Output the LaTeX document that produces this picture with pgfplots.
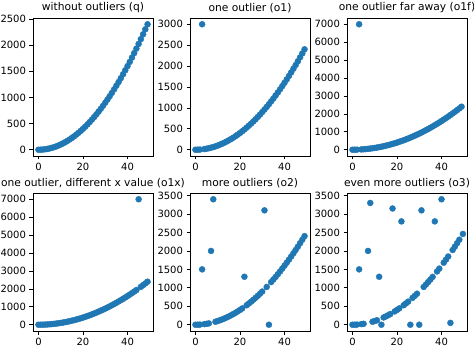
\documentclass[border=0pt]{standalone}
\usepackage{fontspec}
\setmainfont{DejaVu Sans}
\usepackage{pgfplots}
\usepackage{pgfplotstable}
\pgfplotsset{compat=1.18}
\definecolor{mplblue}{HTML}{1F77B4}
\pgfplotstableread{
x q a b c
0 0 0 0 0
1 1 1 1 1
2 4 4 4 4
3 9 nan 9 nan
4 16 16 16 16
5 25 25 25 25
6 36 36 36 36
7 49 49 49 nan
8 64 64 64 nan
9 81 81 81 81
10 100 100 100 100
11 121 121 121 121
12 144 144 144 144
13 169 169 169 169
14 196 196 196 196
15 225 225 225 225
16 256 256 256 256
17 289 289 289 289
18 324 324 324 324
19 361 361 361 361
20 400 400 400 400
21 441 441 441 441
22 484 484 484 nan
23 529 529 529 529
24 576 576 576 576
25 625 625 625 625
26 676 676 676 676
27 729 729 729 729
28 784 784 784 784
29 841 841 841 841
30 900 900 900 900
31 961 961 961 nan
32 1024 1024 1024 1024
33 1089 1089 1089 nan
34 1156 1156 1156 1156
35 1225 1225 1225 1225
36 1296 1296 1296 1296
37 1369 1369 1369 1369
38 1444 1444 1444 1444
39 1521 1521 1521 1521
40 1600 1600 1600 1600
41 1681 1681 1681 1681
42 1764 1764 1764 1764
43 1849 1849 1849 1849
44 1936 1936 1936 1936
45 2025 2025 nan 2025
46 2116 2116 2116 2116
47 2209 2209 2209 2209
48 2304 2304 2304 2304
49 2401 2401 2401 2401
}\base
\pgfplotstableread{
x y
0 0
1 1
2 4
4 16
5 25
9 81
10 100
11 121
14 196
15 225
16 256
17 289
19 361
20 400
21 441
23 529
24 576
25 625
27 729
28 784
29 841
32 1024
33 1089
34 1156
35 1225
36 1296
38 1444
39 1521
41 1681
42 1764
43 1849
45 2025
46 2116
47 2209
48 2304
49.6 2460
3 1500
7 2000
8 3300
12 1300
13 0
18 3150
22 2800
26 0
30 0
31 3100
37 2800
40 3400
44 50
}\othree
\pgfplotsset{
  every axis/.append style={
    scale only axis, width=120pt, height=138pt,
    anchor=south west,
    font=\fontsize{10}{12}\selectfont,
    /pgf/number format/assume math mode=true,
    /pgf/number format/1000 sep={},
    tick align=outside, major tick length=3.5pt,
    tick style={black, line width=0.7pt},
    axis line style={black, line width=0.7pt},
    xtick={0,20,40}, xmin=-2.45, xmax=51.45,
    xtick pos=bottom, ytick pos=left,
    title style={font=\fontsize{10.7}{12.8}\selectfont, yshift=-4pt},
    clip=false,
  },
  dots/.style={only marks, mark=*, mark size=3pt, color=mplblue,
    mark options={draw=mplblue, fill=mplblue}, unbounded coords=discard},
}
\begin{document}
\begin{tikzpicture}[x=1pt,y=1pt]
\useasboundingbox (0,0) rectangle (474,351);
% row 1
\begin{axis}[at={(33pt,195pt)}, title={without outliers (q)},
  ymin=-120, ymax=2521, ytick={0,500,1000,1500,2000,2500}]
\addplot[dots] table[x=x,y=q] {\base};
\end{axis}
\begin{axis}[at={(190pt,195pt)}, title={one outlier (o1)},
  ymin=-150, ymax=3150, ytick={0,500,1000,1500,2000,2500,3000}]
\addplot[dots] table[x=x,y=a] {\base};
\addplot[dots] coordinates {(3,3000)};
\end{axis}
\begin{axis}[at={(347pt,195pt)}, title={one outlier far away (o1f)},
  ymin=-350, ymax=7350, ytick={0,1000,2000,3000,4000,5000,6000,7000}]
\addplot[dots] table[x=x,y=a] {\base};
\addplot[dots] coordinates {(3,7000)};
\end{axis}
% row 2
\begin{axis}[at={(33pt,20pt)}, title={one outlier, different x value (o1x)},
  ymin=-350, ymax=7350, ytick={0,1000,2000,3000,4000,5000,6000,7000}]
\addplot[dots] table[x=x,y=b] {\base};
\addplot[dots] coordinates {(45,7000)};
\end{axis}
\begin{axis}[at={(190pt,20pt)}, title={more outliers (o2)},
  ymin=-170, ymax=3570, ytick={0,500,1000,1500,2000,2500,3000,3500}]
\addplot[dots] table[x=x,y=c] {\base};
\addplot[dots] coordinates {(3,1500) (7,2000) (8,3400) (22,1300) (31,3100) (33,0)};
\end{axis}
\begin{axis}[at={(347pt,20pt)}, title={even more outliers (o3)},
  ymin=-170, ymax=3570, ytick={0,500,1000,1500,2000,2500,3000,3500}]
\addplot[dots] table[x=x,y=y] {\othree};
\end{axis}
\end{tikzpicture}
\end{document}
